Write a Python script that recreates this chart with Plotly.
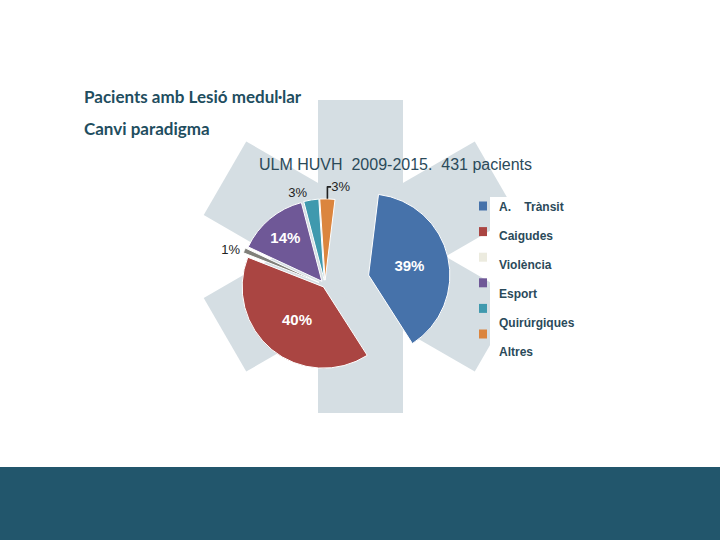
import math
import plotly.graph_objects as go

# ---- data ----
categories = ["A.    Trànsit", "Caigudes", "Violència", "Esport", "Quirúrgiques", "Altres"]
percentages = [39, 40, 1, 14, 3, 3]
slice_colors = ["#4672AA", "#AA4542", "#80807A", "#6F5897", "#3F99AE", "#DB853E"]
legend_colors = ["#4672AA", "#AA4542", "#ECEBDF", "#6F5897", "#3F99AE", "#DB853E"]
pulls = [0.55, 0.03, 0.08, 0.06, 0.06, 0.06]
text_positions = ["inside", "inside", "outside", "inside", "outside", "outside"]
text_templates = ["<b>%{value}%</b>", "<b>%{value}%</b>", "%{value}%",
                  "<b>%{value}%</b>", "%{value}%", "%{value}%"]

chart_title = "ULM HUVH  2009-2015.  431 pacients"
slide_title_1 = "Pacients amb Lesió medul·lar"
slide_title_2 = "Canvi paradigma"

W, H = 720, 540


def px(x):
    return x / W


def py(y):
    return 1 - y / H


fig = go.Figure()

fig.add_trace(go.Pie(
    labels=categories,
    values=percentages,
    sort=False,
    direction="clockwise",
    rotation=7,
    pull=pulls,
    marker=dict(colors=slice_colors, line=dict(color="#FFFFFF", width=1)),
    texttemplate=text_templates,
    textposition=text_positions,
    insidetextfont=dict(family="Arial, Liberation Sans", size=15, color="#FFFFFF"),
    outsidetextfont=dict(family="Arial, Liberation Sans", size=13, color="#222222"),
    hoverinfo="label+value",
    showlegend=False,
    domain=dict(x=[px(199), px(451)], y=[py(411), py(159)]),
))

shapes = []
# star-of-life background (three bars)
cx, cy, half_len, half_w = 360.5, 256.5, 156.5, 42.5
for ang in (90, 30, -30):
    a = math.radians(ang)
    dx, dy = math.cos(a), -math.sin(a)
    nx, ny = -dy, dx
    pts = [
        (cx + dx * half_len + nx * half_w, cy + dy * half_len + ny * half_w),
        (cx + dx * half_len - nx * half_w, cy + dy * half_len - ny * half_w),
        (cx - dx * half_len - nx * half_w, cy - dy * half_len - ny * half_w),
        (cx - dx * half_len + nx * half_w, cy - dy * half_len + ny * half_w),
    ]
    path = "M " + " L ".join(f"{px(x):.5f},{py(y):.5f}" for x, y in pts) + " Z"
    shapes.append(dict(type="path", path=path, xref="paper", yref="paper",
                       fillcolor="#D5DEE3", line=dict(width=0), layer="below"))

# white legend box
shapes.append(dict(type="rect", xref="paper", yref="paper",
                   x0=px(490), x1=px(600), y0=py(372), y1=py(197),
                   fillcolor="#FFFFFF", line=dict(width=0), layer="below"))
# bottom band
shapes.append(dict(type="rect", xref="paper", yref="paper",
                   x0=0, x1=1, y0=0, y1=py(467),
                   fillcolor="#22566C", line=dict(width=0), layer="below"))

annotations = []
# legend squares and labels
for i, (lab, col) in enumerate(zip(categories, legend_colors)):
    sy = 206 + i * 25.6
    shapes.append(dict(type="rect", xref="paper", yref="paper",
                       x0=px(479), x1=px(487), y0=py(sy + 4.5), y1=py(sy - 4.5),
                       fillcolor=col, line=dict(width=0), layer="above"))
    annotations.append(dict(text=f"<b>{lab}</b>", xref="paper", yref="paper",
                            x=px(497), y=py(207 + i * 29), xanchor="left", yanchor="middle",
                            showarrow=False,
                            font=dict(family="Arial, Liberation Sans", size=12, color="#2B4A5A")))

annotations.append(dict(text=chart_title, xref="paper", yref="paper",
                        x=px(395), y=py(164), xanchor="center", yanchor="middle", showarrow=False,
                        font=dict(family="Arial, Liberation Sans", size=16, color="#2B4A5A")))
annotations.append(dict(text=f"<b>{slide_title_1}</b>", xref="paper", yref="paper",
                        x=px(82), y=py(97), xanchor="left", yanchor="middle", showarrow=False,
                        font=dict(family="Lato", size=17, color="#1F4E5F")))
annotations.append(dict(text=f"<b>{slide_title_2}</b>", xref="paper", yref="paper",
                        x=px(82), y=py(128), xanchor="left", yanchor="middle", showarrow=False,
                        font=dict(family="Lato", size=17, color="#1F4E5F")))

fig.update_layout(
    width=W, height=H,
    margin=dict(l=0, r=0, t=0, b=0),
    paper_bgcolor="#FFFFFF",
    plot_bgcolor="#FFFFFF",
    shapes=shapes,
    annotations=annotations,
    showlegend=False,
)

fig.write_html("out.html", config={"displayModeBar": False},
               post_script="document.body.style.margin='0';")
